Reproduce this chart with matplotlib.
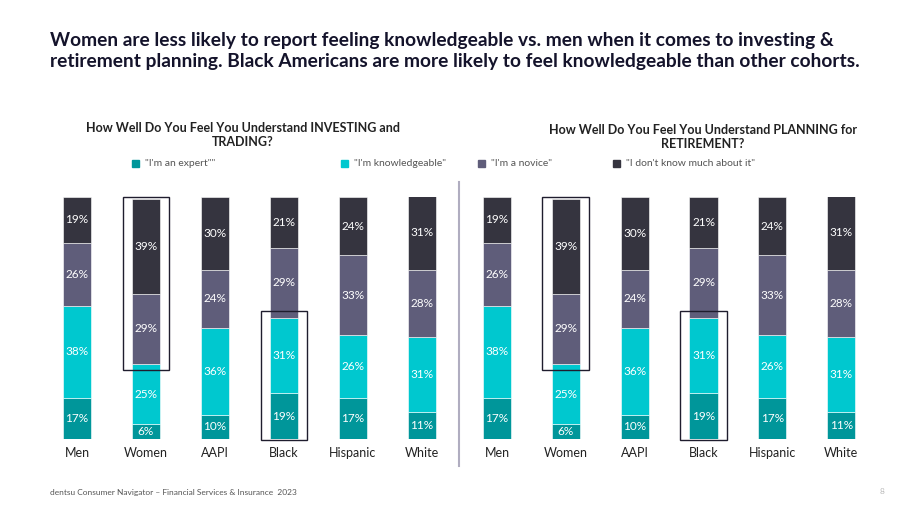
import matplotlib
matplotlib.use("Agg")
import matplotlib.pyplot as plt
from matplotlib.patches import Rectangle
import numpy as np

plt.rcParams['font.family'] = ['Lato', 'DejaVu Sans']

categories = ["Men", "Women", "AAPI", "Black", "Hispanic", "White"]
series_names = ['"I\'m an expert""', '"I\'m knowledgeable"', '"I\'m a novice"', '"I don\'t know much about it"']
colors = ["#00969A", "#00C8CF", "#5F5D7A", "#35343F"]

investing_expert = [17, 6, 10, 19, 17, 11]
investing_knowledgeable = [38, 25, 36, 31, 26, 31]
investing_novice = [26, 29, 24, 29, 33, 28]
investing_dontknow = [19, 39, 30, 21, 24, 31]

planning_expert = [17, 6, 10, 19, 17, 11]
planning_knowledgeable = [38, 25, 36, 31, 26, 31]
planning_novice = [26, 29, 24, 29, 33, 28]
planning_dontknow = [19, 39, 30, 21, 24, 31]

title = ("Women are less likely to report feeling knowledgeable vs. men when it comes to investing &\n"
         "retirement planning. Black Americans are more likely to feel knowledgeable than other cohorts.")
subtitle_left = "How Well Do You Feel You Understand INVESTING and\nTRADING?"
subtitle_right = "How Well Do You Feel You Understand PLANNING for\nRETIREMENT?"
footer = "dentsu Consumer Navigator \u2013 Financial Services & Insurance  2023"
page = "8"

W, H = 920, 518
fig = plt.figure(figsize=(W / 100, H / 100), dpi=100)

def fx(px):
    return px / W

def fy(py):
    return 1 - py / H

def draw_panel(ax, series):
    x = np.arange(len(categories))
    bottom = np.zeros(len(categories))
    for vals, col in zip(series, colors):
        vals = np.array(vals, dtype=float)
        ax.bar(x, vals, bottom=bottom, width=0.41, color=col, edgecolor="white", linewidth=0.4)
        for xi, v, b in zip(x, vals, bottom):
            ax.text(xi, b + v / 2, f"{int(v)}%", ha="center", va="center", color="white", fontsize=8.5)
        bottom += vals
    ax.set_xlim(-0.5, len(categories) - 0.5)
    ax.set_ylim(0, 100)
    ax.set_xticks(x)
    ax.set_xticklabels(categories, fontsize=9, color="#222222")
    ax.tick_params(axis="x", length=0, pad=6)
    ax.set_yticks([])
    for s in ax.spines.values():
        s.set_visible(False)
    # highlight boxes
    ex = np.array(series[0], float)
    kn = np.array(series[1], float)
    w = 0.68
    i = 1  # Women
    lo = ex[i] + kn[i] - 2.5
    ax.add_patch(Rectangle((i - w / 2, lo), w, 100 - lo, fill=False, edgecolor="#1f1d2e", linewidth=1.0, clip_on=False))
    i = 3  # Black
    hi = ex[i] + kn[i] + 3
    ax.add_patch(Rectangle((i - w / 2, -0.5), w, hi + 0.5, fill=False, edgecolor="#1f1d2e", linewidth=1.0, clip_on=False))

ax_bottom = fy(439)
ax_h = 242 / H
axL = fig.add_axes([fx(42.5), ax_bottom, 414 / W, ax_h])
axR = fig.add_axes([fx(462.6), ax_bottom, 413 / W, ax_h])
draw_panel(axL, [investing_expert, investing_knowledgeable, investing_novice, investing_dontknow])
draw_panel(axR, [planning_expert, planning_knowledgeable, planning_novice, planning_dontknow])

# divider
fig.add_artist(plt.Line2D([fx(459.5), fx(459.5)], [fy(182), fy(466)], color="#b0adc0", linewidth=1.5))

# title (fit to reference width)
t = fig.text(fx(50), fy(32), title, ha="left", va="top", fontsize=13, fontweight="bold",
             color="#14132b", linespacing=1.3)
fig.canvas.draw()
bw = t.get_window_extent().width
t.set_fontsize(13 * 808 / bw)

# subtitles
fig.text(fx(243), fy(122), subtitle_left, ha="center", va="top", fontsize=9, fontweight="bold",
         color="#222222", linespacing=1.2)
fig.text(fx(703), fy(124), subtitle_right, ha="center", va="top", fontsize=9, fontweight="bold",
         color="#222222", linespacing=1.2)

# legend
leg_x = [136, 345, 482, 617]
for px, name, col in zip(leg_x, series_names, colors):
    fig.add_artist(Rectangle((fx(px - 3.5), fy(167)), 7 / W, 7 / H, color=col, transform=fig.transFigure))
    fig.text(fx(px + 9), fy(163.5), name, ha="left", va="center", fontsize=7.5, color="#555555")

# footer
fig.text(fx(50), fy(492), footer, ha="left", va="center", fontsize=6, color="#555555")
fig.text(fx(882), fy(492), page, ha="center", va="center", fontsize=6, color="#bbbbbb")

fig.savefig("out.png", dpi=100)
